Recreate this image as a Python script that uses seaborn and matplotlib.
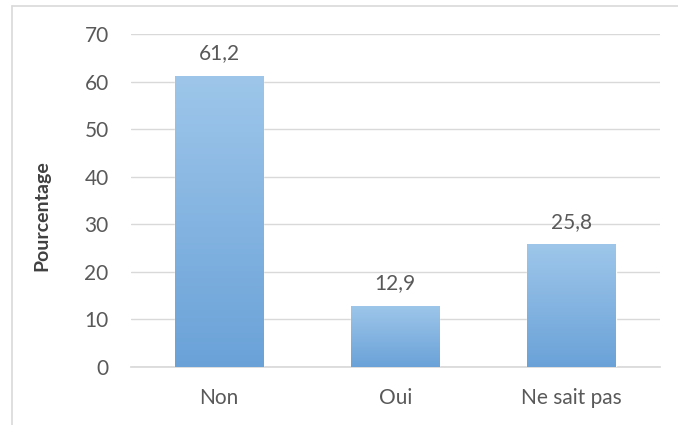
import matplotlib
matplotlib.use("Agg")
import matplotlib.pyplot as plt
import matplotlib.colors as mcolors
import numpy as np
import pandas as pd
import seaborn as sns

categories = ["Non", "Oui", "Ne sait pas"]
values = [61.2, 12.9, 25.8]
labels = ["61,2", "12,9", "25,8"]
yticks = [0, 10, 20, 30, 40, 50, 60, 70]

sns.set_theme(style="white")
plt.rcParams['font.family'] = ['Lato', 'DejaVu Sans']

df = pd.DataFrame({"cat": categories, "val": values})

fig = plt.figure(figsize=(6.78, 4.25), dpi=100)
ax = fig.add_axes([0.193, 0.1365, 0.78, 0.7835])

sns.barplot(data=df, x="cat", y="val", ax=ax, color="#7fb2e0", width=0.5,
            saturation=1, zorder=3)

cmap = mcolors.LinearSegmentedColormap.from_list("g", ["#6aa2d8", "#9ec6ea"])
grad = np.linspace(0, 1, 256).reshape(-1, 1)
for p in ax.patches:
    x0, y0 = p.get_x(), p.get_y()
    w, h = p.get_width(), p.get_height()
    im = ax.imshow(grad, cmap=cmap, origin="lower", aspect="auto",
                   extent=[x0, x0 + w, y0, y0 + h], zorder=4)
    im.set_clip_path(p)

ax.set_xlim(-0.5, 2.5)
ax.set_ylim(0, 70)
ax.set_yticks(yticks)
ax.yaxis.grid(True, color="#d9d9d9", linewidth=1)
ax.set_axisbelow(True)
for s in ["top", "right", "left"]:
    ax.spines[s].set_visible(False)
ax.spines["bottom"].set_color("#d9d9d9")
ax.tick_params(axis="both", length=0, labelsize=15, labelcolor="#595959")
ax.tick_params(axis="x", pad=15)
ax.tick_params(axis="y", pad=16)
ax.set_xlabel("")
ax.set_ylabel("Pourcentage", fontsize=14, fontweight="bold", color="#404040")
ax.yaxis.set_label_coords(-0.153, 0.455)

for i, (v, t) in enumerate(zip(values, labels)):
    ax.annotate(t, (i, v), xytext=(0, 9), textcoords="offset points",
                ha="center", va="bottom", fontsize=15, color="#595959", zorder=5)

fig.add_artist(plt.Line2D([12/678, 12/678], [0, 1 - 6/425], color="#d9d9d9", lw=1.2,
                          transform=fig.transFigure))
fig.add_artist(plt.Line2D([12/678, 1], [1 - 6/425, 1 - 6/425], color="#d9d9d9", lw=1.2,
                          transform=fig.transFigure))

fig.savefig("out.png", dpi=100)
